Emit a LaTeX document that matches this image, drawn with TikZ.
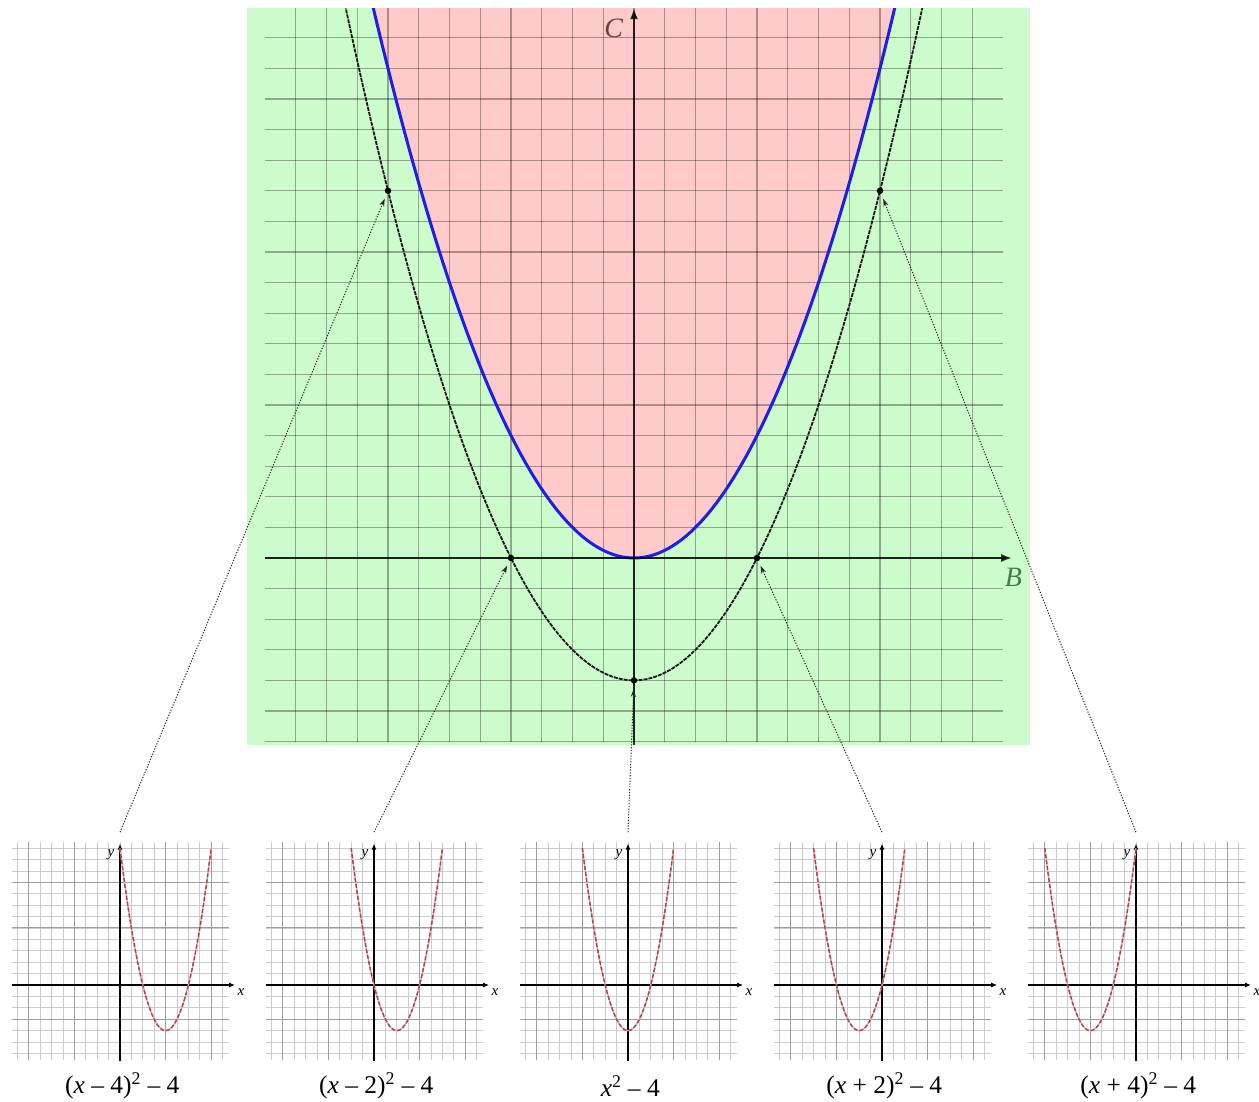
\documentclass[tikz,border=0pt]{standalone}
\usepackage{fontspec}
\setmainfont{Liberation Serif}
\usetikzlibrary{arrows.meta}
\definecolor{maingreen}{RGB}{204,252,204}
\definecolor{mainred}{RGB}{255,202,202}
\definecolor{curveblue}{RGB}{30,30,230}
\definecolor{parabred}{RGB}{170,70,85}
\definecolor{parabpink}{RGB}{240,170,175}
\definecolor{labred}{RGB}{120,60,60}
\definecolor{labgreen}{RGB}{70,125,70}
\tikzset{
  gridline/.style={black, opacity=0.32, line width=1.3pt},
  axisline/.style={black, opacity=0.8, line width=2pt, -{Latex[length=11pt,width=8pt]}},
  axislabel/.style={font=\fontsize{28}{30}\selectfont\itshape, inner sep=0pt},
  bluecurve/.style={curveblue, line width=3pt},
  blackcurve/.style={black!90, line width=1.8pt, dash pattern=on 4pt off 1pt},
  dot/.style={circle, fill=black, minimum size=6.5pt, inner sep=0pt},
  conn/.style={black!85, line width=1pt, dash pattern=on 1.2pt off 1.6pt, shorten >=5pt, -{Stealth[length=8pt,width=5pt]}},
  sgrid/.style={black!20, line width=0.8pt},
  sgridmaj/.style={black!38, line width=1pt},
  saxis/.style={black, line width=1.5pt, -{Latex[length=6pt,width=5pt]}},
  sparabbase/.style={parabpink, line width=1.4pt},
  sparab/.style={parabred, line width=1.5pt, dash pattern=on 4pt off 2pt},
  slabel/.style={font=\fontsize{15}{16}\selectfont\itshape, inner sep=0pt},
  flabel/.style={font=\fontsize{25.5}{27}\selectfont, inner sep=0pt}
}
\begin{document}
\begin{tikzpicture}[x=1pt,y=1pt]
\useasboundingbox (0,0) rectangle (1259,1101);
% ---------------- main plot ----------------
\begin{scope}[shift={(634pt,543pt)}, x=61.5pt, y=30.6pt]
  \fill[maingreen] (-6.293,-6.1) rectangle (6.44,17.97);
  \begin{scope}
    \clip (-6.293,-6.1) rectangle (6.44,17.97);
    \fill[mainred] plot[domain=-4.4:4.4, samples=120] (\x,{\x*\x}) -- cycle;
    \foreach \b in {-5.5,-5,...,5.6} \draw[gridline] (\b,-6) -- (\b,17.97);
    \foreach \c in {-6,...,17} \draw[gridline] (-6,\c) -- (6,\c);
    \draw[bluecurve] plot[domain=-4.3:4.3, samples=120] (\x,{\x*\x});
    \draw[blackcurve] plot[domain=-4.75:4.75, samples=120] (\x,{\x*\x-4});
  \end{scope}
  \draw[axisline] (-6,0) -- (6.15,0);
  \draw[axisline] (0,-6.1) -- (0,17.97);
  \node[axislabel, labred] (labC) at (-0.33,17.3) {C};
  \node[axislabel, labgreen] (labB) at (6.17,-0.62) {B};
  \node[dot] (p1) at (-4,12) {};
  \node[dot] (p2) at (-2,0) {};
  \node[dot] (p3) at (0,-4) {};
  \node[dot] (p4) at (2,0) {};
  \node[dot] (p5) at (4,12) {};
\end{scope}
% ---------------- small plots ----------------
\foreach \k/\h/\txt in {0/4/{(\textit{x} – 4)\textsuperscript{2} – 4},
                        1/2/{(\textit{x} – 2)\textsuperscript{2} – 4},
                        2/0/{\textit{x}\textsuperscript{2} – 4},
                        3/-2/{(\textit{x} + 2)\textsuperscript{2} – 4},
                        4/-4/{(\textit{x} + 4)\textsuperscript{2} – 4}} {
  \pgfmathsetmacro\lo{\h-4}
  \pgfmathsetmacro\hi{\h+4}
  \pgfmathsetmacro\ax{120+254*\k}
  \begin{scope}[shift={(\ax pt,116pt)}, x=11.4pt, y=11.4pt]
    \foreach \i in {-9,...,9} \draw[sgrid] (\i,-6.6) -- (\i,12.5);
    \foreach \j in {-6,...,12} \draw[sgrid] (-9.5,\j) -- (9.6,\j);
    \foreach \i in {-8,-4,4,8} \draw[sgridmaj] (\i,-6.6) -- (\i,12.5);
    \foreach \j in {-3,5,9} \draw[sgridmaj] (-9.5,\j) -- (9.6,\j);
    \draw[saxis] (-9.5,0) -- (10.1,0);
    \draw[saxis] (0,-6.7) -- (0,12.4);
    \draw[sparabbase] plot[domain=\lo:\hi, samples=80] (\x,{((\x)-(\h))*((\x)-(\h))-4});
    \draw[sparab] plot[domain=\lo:\hi, samples=80] (\x,{((\x)-(\h))*((\x)-(\h))-4});
    \node[slabel] (ylab\k) at (-0.8,11.4) {y};
    \node[slabel] (xlab\k) at (10.6,-0.6) {x};
    \coordinate (s\k) at (0,13.4);
    \node[flabel] (f\k) at (0.2,-8.85) {\txt};
  \end{scope}
}
% ---------------- connectors ----------------
\draw[conn] (s0) -- (p1);
\draw[conn] (s1) -- (p2);
\draw[conn] (s2) -- (p3);
\draw[conn] (s3) -- (p4);
\draw[conn] (s4) -- (p5);
\end{tikzpicture}
\end{document}
